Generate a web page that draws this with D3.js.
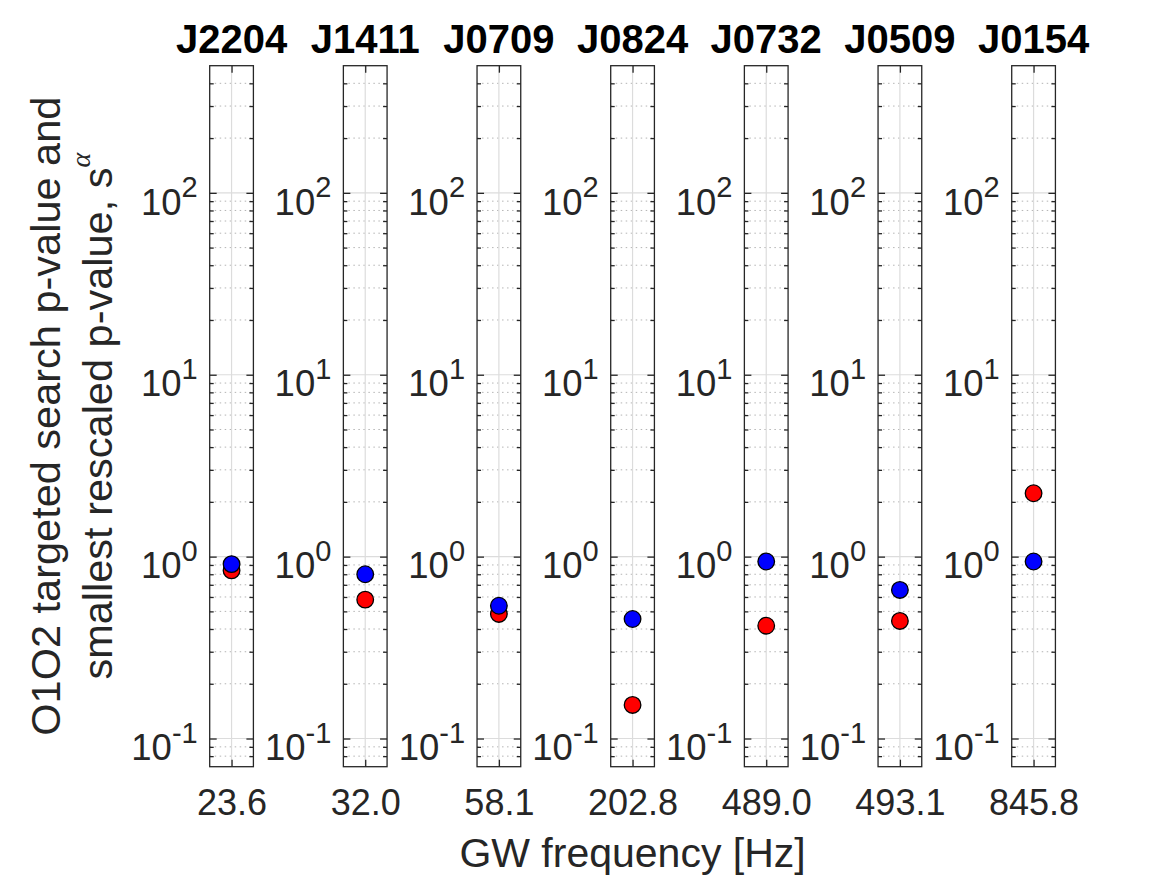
<!DOCTYPE html>
<html>
<head>
<meta charset="utf-8">
<script src="https://cdn.jsdelivr.net/npm/d3@7"></script>
<style>
  body { margin: 0; background: #fff; }
  text { font-family: "Liberation Sans", Arial, Helvetica, sans-serif; }
</style>
</head>
<body>
<div id="chart"></div>
<script>
// data
const pulsars = ["J2204", "J1411", "J0709", "J0824", "J0732", "J0509", "J0154"]
const gwFreqs = [23.6, 32.0, 58.1, 202.8, 489.0, 493.1, 845.8]
const targetedP = [0.84, 0.58, 0.484, 0.153, 0.417, 0.443, 2.23]   // red
const rescaledP = [0.91, 0.80, 0.537, 0.454, 0.94, 0.656, 0.94]    // blue
const yMajorTicks = [0.1, 1, 10, 100]

// layout
const width = 1167, height = 875
const firstLeft = 209.7, step = 133.67, panelW = 43.7
const plotTop = 65.7, plotBottom = 766.7
const ink = "#262626"

const svg = d3.select("#chart").append("svg")
    .attr("width", width)
    .attr("height", height)

const yScale = d3.scaleLog()
    .domain([0.07, 500])
    .range([plotBottom, plotTop])

// minor ticks 2..9 in every decade that falls in the domain
const yMinorTicks = []
for (let e = -2; e <= 2; e++) {
    for (let k = 2; k <= 9; k++) {
        const v = k * Math.pow(10, e)
        if (v > 0.07 && v < 500) yMinorTicks.push(v)
    }
}

const noDomain = a => a.select(".domain").remove()
const tickStyle = sel => sel.selectAll("line").attr("stroke", ink).attr("stroke-width", 1.3)

pulsars.forEach((name, i) => {
    const f = gwFreqs[i]
    const g = svg.append("g")
        .attr("transform", `translate(${firstLeft + i * step},0)`)

    const xScale = d3.scaleLinear()
        .domain([f * 0.95, f * 1.05])
        .range([0, panelW])

    // grid
    g.selectAll(".minor-grid")
        .data(yMinorTicks)
        .join("line")
        .attr("x1", 0).attr("x2", panelW)
        .attr("y1", d => yScale(d)).attr("y2", d => yScale(d))
        .attr("stroke", "#b4b4b4")
        .attr("stroke-width", 1)
        .attr("stroke-dasharray", "1.5,3.5")

    g.selectAll(".major-grid")
        .data(yMajorTicks)
        .join("line")
        .attr("x1", 0).attr("x2", panelW)
        .attr("y1", d => yScale(d)).attr("y2", d => yScale(d))
        .attr("stroke", "#dcdcdc")
        .attr("stroke-width", 1.2)

    g.append("line")
        .attr("x1", xScale(f)).attr("x2", xScale(f))
        .attr("y1", plotTop).attr("y2", plotBottom)
        .attr("stroke", "#dcdcdc")
        .attr("stroke-width", 1.2)

    // ticks, pointing inward on all four sides
    g.append("g")
        .call(d3.axisLeft(yScale).tickValues(yMajorTicks).tickSize(-7).tickFormat(""))
        .call(noDomain).call(tickStyle)
    g.append("g")
        .call(d3.axisLeft(yScale).tickValues(yMinorTicks).tickSize(-4).tickFormat(""))
        .call(noDomain).call(tickStyle)
    g.append("g")
        .attr("transform", `translate(${panelW},0)`)
        .call(d3.axisRight(yScale).tickValues(yMajorTicks).tickSize(-7).tickFormat(""))
        .call(noDomain).call(tickStyle)
    g.append("g")
        .attr("transform", `translate(${panelW},0)`)
        .call(d3.axisRight(yScale).tickValues(yMinorTicks).tickSize(-4).tickFormat(""))
        .call(noDomain).call(tickStyle)

    const xAxis = g.append("g")
        .attr("transform", `translate(0,${plotBottom})`)
        .call(d3.axisBottom(xScale).tickValues([f]).tickSize(-7).tickPadding(22.7)
            .tickFormat(d3.format(".1f")))
        .call(noDomain).call(tickStyle)
    xAxis.selectAll("text")
        .attr("fill", ink)
        .style("font-size", "36px")
        .style("font-family", "'Liberation Sans', Arial, sans-serif")

    g.append("g")
        .attr("transform", `translate(0,${plotTop})`)
        .call(d3.axisTop(xScale).tickValues([f]).tickSize(-7).tickFormat(""))
        .call(noDomain).call(tickStyle)

    // y tick labels 10^n
    const labels = g.selectAll(".ylab")
        .data(yMajorTicks)
        .join("text")
        .attr("x", -12)
        .attr("y", d => yScale(d) + 21.7)
        .attr("text-anchor", "end")
        .attr("fill", ink)
        .style("font-size", "36.5px")
    labels.append("tspan").text("10")
    labels.append("tspan")
        .attr("dy", -17.7)
        .style("font-size", "29px")
        .text(d => Math.round(Math.log10(d)))

    // box
    g.append("rect")
        .attr("x", 0).attr("y", plotTop)
        .attr("width", panelW).attr("height", plotBottom - plotTop)
        .attr("fill", "none")
        .attr("stroke", ink)
        .attr("stroke-width", 1.3)

    // markers: red under blue
    g.append("circle")
        .attr("cx", xScale(f))
        .attr("cy", yScale(targetedP[i]))
        .attr("r", 8.3)
        .attr("fill", "#ff0000")
        .attr("stroke", "#000")
        .attr("stroke-width", 1.3)
    g.append("circle")
        .attr("cx", xScale(f))
        .attr("cy", yScale(rescaledP[i]))
        .attr("r", 8.3)
        .attr("fill", "#0000ff")
        .attr("stroke", "#000")
        .attr("stroke-width", 1.3)

    // title
    g.append("text")
        .attr("x", panelW / 2)
        .attr("y", 52.7)
        .attr("text-anchor", "middle")
        .attr("fill", "#000")
        .style("font-size", "40px")
        .style("font-weight", "bold")
        .text(name)
})

// x label
svg.append("text")
    .attr("x", firstLeft + 3 * step + panelW / 2)
    .attr("y", 866.7)
    .attr("text-anchor", "middle")
    .attr("fill", ink)
    .style("font-size", "41px")
    .text("GW frequency [Hz]")

// y label, two lines
const midY = (plotTop + plotBottom) / 2
svg.append("text")
    .attr("transform", `translate(60,${midY}) rotate(-90)`)
    .attr("text-anchor", "middle")
    .attr("fill", ink)
    .style("font-size", "41.5px")
    .text("O1O2 targeted search p-value and")

const yl2 = svg.append("text")
    .attr("transform", `translate(112,${midY}) rotate(-90)`)
    .attr("text-anchor", "middle")
    .attr("fill", ink)
    .style("font-size", "41.5px")
yl2.append("tspan").text("smallest rescaled p-value, s")
yl2.append("tspan")
    .attr("dy", -22)
    .style("font-size", "28px")
    .style("font-style", "italic")
    .style("font-family", "'Liberation Serif', 'DejaVu Serif', serif")
    .text("α")
</script>
</body>
</html>
